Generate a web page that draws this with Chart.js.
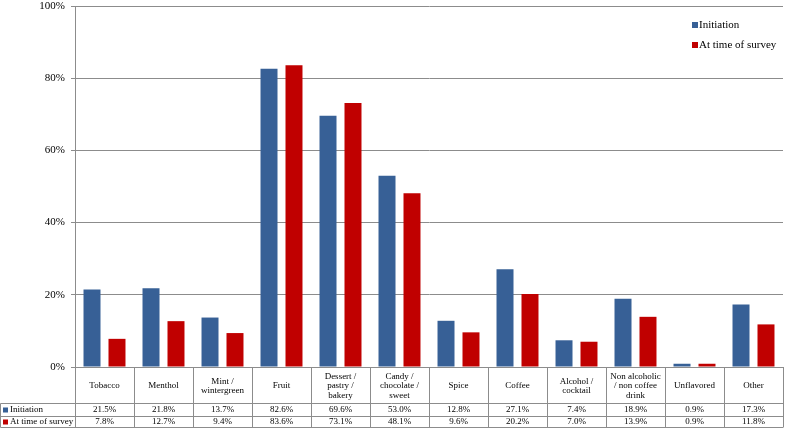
<!DOCTYPE html>
<html>
<head>
<meta charset="utf-8">
<script src="https://cdn.jsdelivr.net/npm/chart.js@4.4.1/dist/chart.umd.min.js"></script>
<style>
  html, body { margin: 0; padding: 0; background: #fff; }
  #wrap { width: 785px; height: 429px; }
</style>
</head>
<body>
<div id="wrap"><canvas id="flavors"></canvas></div>
<script>
// categories (each entry = lines of the table header cell)
const categories = [
    ['Tobacco'], ['Menthol'], ['Mint /', 'wintergreen'], ['Fruit'],
    ['Dessert /', 'pastry /', 'bakery'], ['Candy /', 'chocolate /', 'sweet'],
    ['Spice'], ['Coffee'], ['Alcohol /', 'cocktail'],
    ['Non alcoholic', '/ non coffee', 'drink'], ['Unflavored'], ['Other']
];
const initiation = [21.5, 21.8, 13.7, 82.6, 69.6, 53.0, 12.8, 27.1, 7.4, 18.9, 0.9, 17.3];
const atSurvey   = [7.8, 12.7, 9.4, 83.6, 73.1, 48.1, 9.6, 20.2, 7.0, 13.9, 0.9, 11.8];
const yTicks     = [0, 20, 40, 60, 80, 100];

const blue = '#376096';
const red  = '#C00000';
const lineGrey = '#8c8c8c';
const serif = "'Liberation Serif', 'Times New Roman', serif";

// draws the data table under the axis and the legend box
const tablePlugin = {
    id: 'dataTable',
    afterDraw(chart) {
        const ctx = chart.ctx;
        const x = chart.scales.x;
        const area = chart.chartArea;
        const n = categories.length;
        const step = (area.right - area.left) / n;
        const top = area.bottom;
        const row1 = top + 36, row2 = row1 + 13, row3 = row2 + 11;

        ctx.save();
        ctx.strokeStyle = lineGrey;
        ctx.lineWidth = 1;
        ctx.beginPath();
        // horizontal rules
        ctx.moveTo(0.5, Math.round(row1) + 0.5); ctx.lineTo(area.right, Math.round(row1) + 0.5);
        ctx.moveTo(0.5, Math.round(row2) + 0.5); ctx.lineTo(area.right, Math.round(row2) + 0.5);
        ctx.moveTo(0.5, Math.round(row3) + 0.5); ctx.lineTo(area.right, Math.round(row3) + 0.5);
        // left border of legend column
        ctx.moveTo(0.5, Math.round(row1) + 0.5); ctx.lineTo(0.5, Math.round(row3) + 0.5);
        // column boundaries
        for (let i = 0; i <= n; i++) {
            const px = Math.round(area.left + i * step) + 0.5;
            ctx.moveTo(px, top); ctx.lineTo(px, Math.round(row3) + 0.5);
        }
        ctx.stroke();

        ctx.fillStyle = '#000';
        ctx.font = '9px ' + serif;
        ctx.textAlign = 'center';
        ctx.textBaseline = 'middle';
        const lh = 9.5;
        categories.forEach((lines, i) => {
            const cx = x.getPixelForValue(i);
            const cy = (top + row1) / 2 + 1;
            lines.forEach((t, k) => {
                ctx.fillText(t, cx, cy + (k - (lines.length - 1) / 2) * lh);
            });
            ctx.fillText(initiation[i].toFixed(1) + '%', cx, (row1 + row2) / 2 + 0.5);
            ctx.fillText(atSurvey[i].toFixed(1) + '%', cx, (row2 + row3) / 2 + 0.5);
        });

        // legend keys inside table
        ctx.textAlign = 'left';
        chart.data.datasets.forEach((ds, d) => {
            const cy = d === 0 ? (row1 + row2) / 2 : (row2 + row3) / 2;
            ctx.fillStyle = ds.backgroundColor;
            ctx.fillRect(3, Math.round(cy) - 2.5, 5, 5);
            ctx.fillStyle = '#000';
            ctx.fillText(ds.label, 10, cy + 0.5);
        });

        // legend top right
        ctx.font = '11px ' + serif;
        chart.data.datasets.forEach((ds, d) => {
            const cy = 25 + d * 20;
            ctx.fillStyle = ds.backgroundColor;
            ctx.fillRect(692, cy - 3, 6, 6);
            ctx.fillStyle = '#000';
            ctx.fillText(ds.label, 699, cy + 0.5);
        });
        ctx.restore();
    }
};

new Chart(document.getElementById('flavors').getContext('2d'), {
    type: 'bar',
    data: {
        labels: categories.map(c => c.join(' ')),
        datasets: [
            { label: 'Initiation', data: initiation, backgroundColor: blue,
              barPercentage: 0.68, categoryPercentage: 0.847 },
            { label: 'At time of survey', data: atSurvey, backgroundColor: red,
              barPercentage: 0.68, categoryPercentage: 0.847 }
        ]
    },
    options: {
        responsive: true,
        maintainAspectRatio: false,
        animation: false,
        layout: { padding: { top: 6, right: 2, left: 0, bottom: 0 } },
        plugins: { legend: { display: false }, tooltip: { enabled: false } },
        scales: {
            x: {
                grid: { display: false },
                border: { display: false },
                ticks: { display: false },
                afterFit(scale) { scale.height = 62; }
            },
            y: {
                min: 0, max: 100,
                afterBuildTicks(scale) { scale.ticks = yTicks.map(v => ({ value: v })); },
                afterFit(scale) {
                    scale.width = 75;
                    scale.paddingTop = 0;
                    scale.paddingBottom = 0;
                },
                grid: { color: lineGrey, tickLength: 4 },
                border: { color: lineGrey },
                ticks: {
                    color: '#000',
                    padding: 6,
                    font: { family: serif, size: 11 },
                    callback: v => v + '%'
                }
            }
        }
    },
    plugins: [tablePlugin]
});
</script>
</body>
</html>
